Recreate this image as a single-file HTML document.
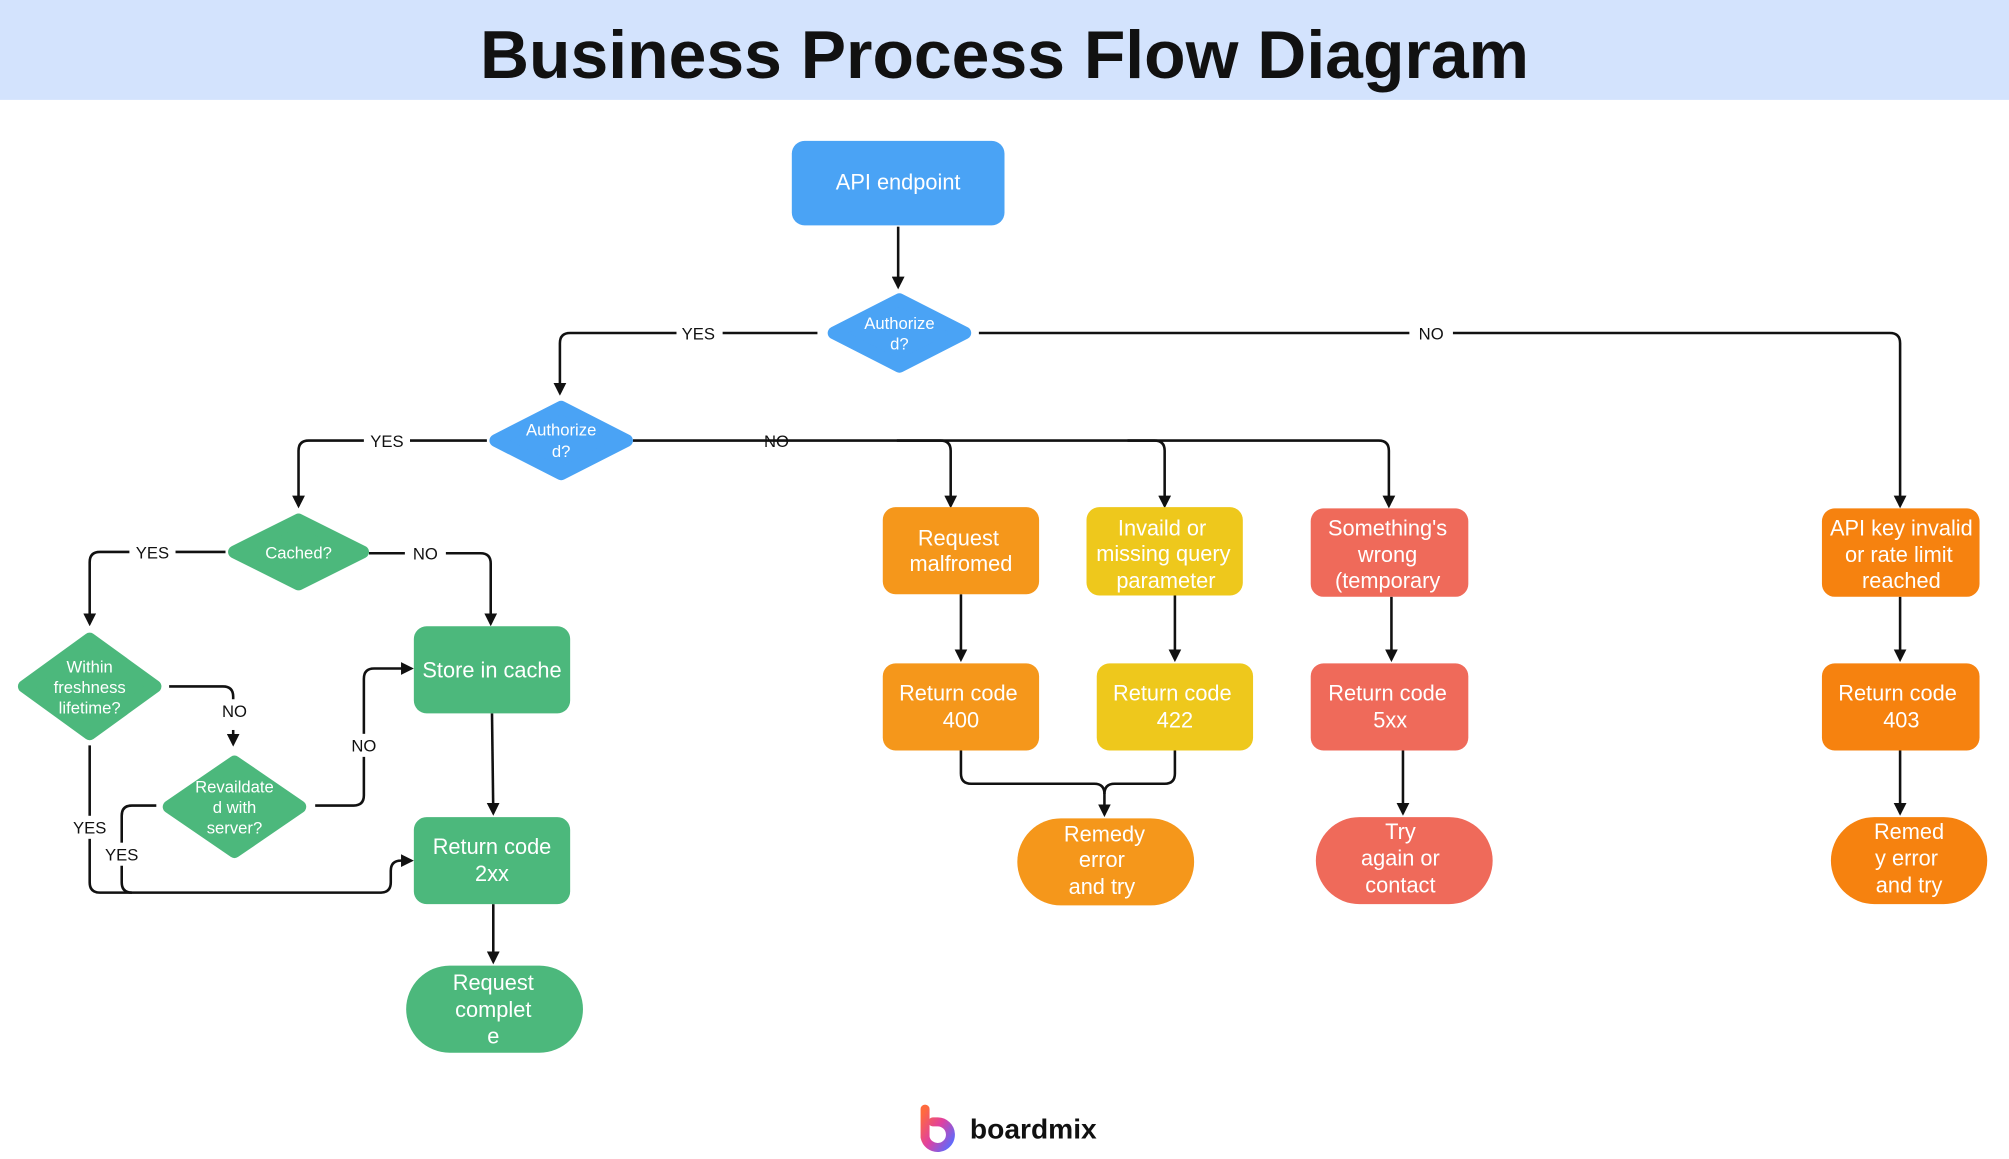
<!DOCTYPE html>
<html><head><meta charset="utf-8"><style>
html,body{margin:0;padding:0;background:#fff;}
svg{display:block;}
text{font-family:"Liberation Sans","DejaVu Sans",sans-serif;}
</style></head><body>
<svg width="2009" height="1159" viewBox="0 0 1568 905" preserveAspectRatio="none" xmlns="http://www.w3.org/2000/svg">
<defs>
<marker id="a" markerWidth="10" markerHeight="10" refX="8" refY="5" orient="auto" markerUnits="userSpaceOnUse"><path d="M0,0 L10,5 L0,10 z" fill="#111"/></marker>
<linearGradient id="lg" x1="0" y1="0" x2="1" y2="1"><stop offset="0" stop-color="#ff6a3d"/><stop offset="0.5" stop-color="#e040a0"/><stop offset="1" stop-color="#5a6cff"/></linearGradient>
</defs>
<rect x="0" y="0" width="1568" height="78" fill="#d3e3fd"/>
<text x="784" y="61" font-size="53" font-weight="bold" text-anchor="middle" fill="#111">Business Process Flow Diagram</text>

<g fill="none" stroke="#111" stroke-width="2">
<path d="M701,177 V224" marker-end="url(#a)"/>
<path d="M638,260 H445 Q437,260 437,268 V307" marker-end="url(#a)"/>
<path d="M764,260 H1475 Q1483,260 1483,268 V395" marker-end="url(#a)"/>
<path d="M380,344 H241 Q233,344 233,352 V395" marker-end="url(#a)"/>
<path d="M494,344 H1076 Q1084,344 1084,352 V395" marker-end="url(#a)"/>
<path d="M700,344 H734 Q742,344 742,352 V395" marker-end="url(#a)"/>
<path d="M880,344 H901 Q909,344 909,352 V395" marker-end="url(#a)"/>
<path d="M176,431 H78 Q70,431 70,439 V487" marker-end="url(#a)"/>
<path d="M288,432 H375 Q383,432 383,440 V487" marker-end="url(#a)"/>
<path d="M132,536 H174 Q182,536 182,544 V546"/>
<path d="M182,570 V581" marker-end="url(#a)"/>
<path d="M246,629 H276 Q284,629 284,621 V530 Q284,522 292,522 H321" marker-end="url(#a)"/>
<path d="M384,557 L385,635" marker-end="url(#a)"/>
<path d="M70,582 V689 Q70,697 78,697 H297 Q305,697 305,689 V680 Q305,672 313,672 H321" marker-end="url(#a)"/>
<path d="M122,629 H103 Q95,629 95,637 V689 Q95,697 103,697"/>
<path d="M385,706 V751" marker-end="url(#a)"/>
<path d="M750,464 V515" marker-end="url(#a)"/>
<path d="M917,465 V515" marker-end="url(#a)"/>
<path d="M1086,466 V515" marker-end="url(#a)"/>
<path d="M1483,466 V515" marker-end="url(#a)"/>
<path d="M750,586 V604 Q750,612 758,612 H854 Q862,612 862,620 V636" marker-end="url(#a)"/>
<path d="M917,586 V604 Q917,612 909,612 H870 Q862,612 862,620"/>
<path d="M1095,586 V635" marker-end="url(#a)"/>
<path d="M1483,586 V635" marker-end="url(#a)"/>
</g>

<g font-size="13" fill="#111" text-anchor="middle">
<rect x="528" y="251" width="36" height="18" fill="#fff"/><text x="545" y="265">YES</text>
<rect x="1100" y="251" width="34" height="18" fill="#fff"/><text x="1117" y="265">NO</text>
<rect x="284" y="335" width="36" height="18" fill="#fff"/><text x="302" y="349">YES</text>
<text x="606" y="349">NO</text>
<rect x="101" y="422" width="36" height="18" fill="#fff"/><text x="119" y="436">YES</text>
<rect x="316" y="423" width="32" height="18" fill="#fff"/><text x="332" y="437">NO</text>
<text x="183" y="560">NO</text>
<rect x="270" y="573" width="28" height="18" fill="#fff"/><text x="284" y="587">NO</text>
<rect x="54" y="637" width="32" height="18" fill="#fff"/><text x="70" y="651">YES</text>
<rect x="80" y="658" width="32" height="18" fill="#fff"/><text x="95" y="672">YES</text>
</g>

<rect x="618" y="110" width="166" height="66" rx="10" fill="#4aa3f5"/>
<text x="701" y="148" font-size="17" fill="#fff" text-anchor="middle">API endpoint</text>

<g fill="#4aa3f5" stroke="#4aa3f5" stroke-width="10" stroke-linejoin="round">
<path d="M702,234 L753,260 L702,286 L651,260 z"/>
<path d="M438,318 L489,344 L438,370 L387,344 z"/>
</g>
<g font-size="13" fill="#fff" text-anchor="middle">
<text x="702" y="257">Authorize</text><text x="702" y="273">d?</text>
<text x="438" y="340">Authorize</text><text x="438" y="357">d?</text>
</g>

<g fill="#4cb87c" stroke="#4cb87c" stroke-width="10" stroke-linejoin="round">
<path d="M233,406 L283,431 L233,456 L183,431 z"/>
<path d="M70,499 L121,536 L70,573 L19,536 z"/>
<path d="M183,595 L234,630 L183,665 L132,630 z"/>
</g>
<g font-size="13" fill="#fff" text-anchor="middle">
<text x="233" y="436">Cached?</text>
<text x="70" y="525">Within</text><text x="70" y="541">freshness</text><text x="70" y="557">lifetime?</text>
<text x="183" y="619">Revaildate</text><text x="183" y="635">d with</text><text x="183" y="651">server?</text>
</g>

<g fill="#4cb87c">
<rect x="323" y="489" width="122" height="68" rx="10"/>
<rect x="323" y="638" width="122" height="68" rx="10"/>
<rect x="317" y="754" width="138" height="68" rx="34"/>
</g>
<g fill="#f5971b">
<rect x="689" y="396" width="122" height="68" rx="10"/>
<rect x="689" y="518" width="122" height="68" rx="10"/>
<rect x="794" y="639" width="138" height="68" rx="34"/>
</g>
<g fill="#eec81c">
<rect x="848" y="396" width="122" height="69" rx="10"/>
<rect x="856" y="518" width="122" height="68" rx="10"/>
</g>
<g fill="#ef6a5a">
<rect x="1023" y="397" width="123" height="69" rx="10"/>
<rect x="1023" y="518" width="123" height="68" rx="10"/>
<rect x="1027" y="638" width="138" height="68" rx="34"/>
</g>
<g fill="#f6820f">
<rect x="1422" y="397" width="123" height="69" rx="10"/>
<rect x="1422" y="518" width="123" height="68" rx="10"/>
<rect x="1429" y="638" width="122" height="68" rx="34"/>
</g>

<g font-size="17" fill="#fff" text-anchor="middle">
<text x="384" y="529">Store in cache</text>
<text x="384" y="667">Return code</text><text x="384" y="688">2xx</text>
<text x="385" y="773">Request</text><text x="385" y="794">complet</text><text x="385" y="815">e</text>
<text x="748" y="426">Request</text><text x="750" y="446">malfromed</text>
<text x="748" y="547">Return code</text><text x="750" y="568">400</text>
<text x="862" y="657">Remedy</text><text x="860" y="677">error</text><text x="860" y="698">and try</text>
<text x="907" y="418">Invaild or</text><text x="908" y="438">missing query</text><text x="910" y="459">parameter</text>
<text x="915" y="547">Return code</text><text x="917" y="568">422</text>
<text x="1083" y="418">Something's</text><text x="1083" y="439">wrong</text><text x="1083" y="459">(temporary</text>
<text x="1083" y="547">Return code</text><text x="1085" y="568">5xx</text>
<text x="1093" y="655">Try</text><text x="1093" y="676">again or</text><text x="1093" y="697">contact</text>
<text x="1484" y="418">API key invalid</text><text x="1482" y="439">or rate limit</text><text x="1484" y="459">reached</text>
<text x="1481" y="547">Return code</text><text x="1484" y="568">403</text>
<text x="1490" y="655">Remed</text><text x="1488" y="676">y error</text><text x="1490" y="697">and try</text>
</g>

<path d="M722,866 V888 A10,10 0 1 0 732,876 H728" fill="none" stroke="url(#lg)" stroke-width="7" stroke-linecap="round"/>
<text x="757" y="889" font-size="22" font-weight="bold" fill="#111">boardmix</text>
</svg>
</body></html>
